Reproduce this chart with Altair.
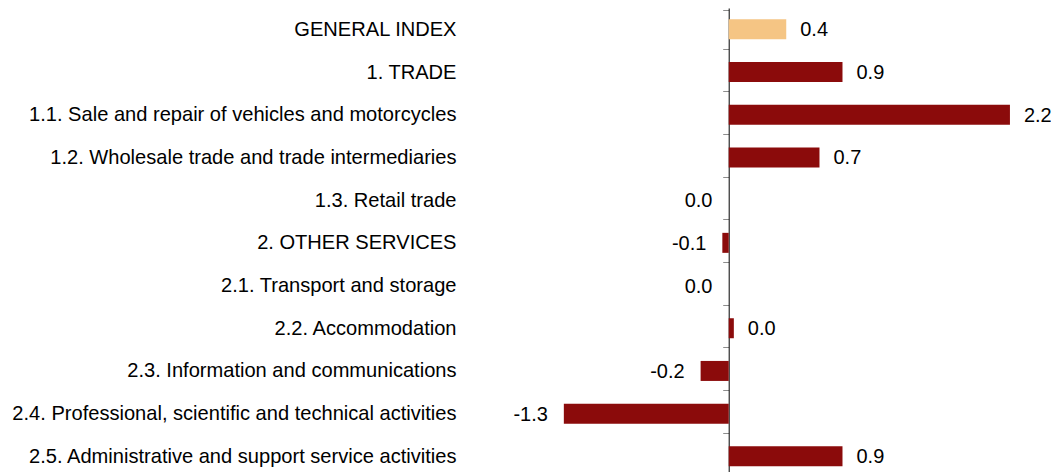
import altair as alt
import pandas as pd

categories = [
    "GENERAL INDEX",
    "1. TRADE",
    "1.1. Sale and repair of vehicles and motorcycles",
    "1.2. Wholesale trade and trade intermediaries",
    "1.3. Retail trade",
    "2. OTHER SERVICES",
    "2.1. Transport and storage",
    "2.2. Accommodation",
    "2.3. Information and communications",
    "2.4. Professional, scientific and technical activities",
    "2.5. Administrative and support service activities",
]
values = [0.45, 0.89, 2.2, 0.71, -0.002, -0.05, -0.002, 0.04, -0.22, -1.29, 0.89]
labels = ["0.4", "0.9", "2.2", "0.7", "0.0", "-0.1", "0.0", "0.0", "-0.2", "-1.3", "0.9"]
groups = ["total", "sub", "sub", "sub", "sub", "sub", "sub", "sub", "sub", "sub", "sub"]

df = pd.DataFrame({"cat": categories, "v": values, "lab": labels, "grp": groups})

FONT = "Liberation Sans"

y_enc = alt.Y(
    "cat:N",
    sort=categories,
    title=None,
    axis=alt.Axis(
        orient="left",
        offset=-268.4,
        tickBand="extent",
        tickSize=6,
        tickColor="#8c8c8c",
        domainColor="#000000",
        domainWidth=1,
        labelFont=FONT,
        labelFontSize=20.1,
        labelColor="#000000",
        labelPadding=266.7,
        labelLimit=0,
        grid=False,
    ),
)
x_enc = alt.X("v:Q", scale=alt.Scale(domain=[-2.1, 2.5], nice=False, zero=False), axis=None)

bars = (
    alt.Chart(df)
    .transform_filter("abs(datum.v) > 0.005")
    .mark_bar(size=20)
    .encode(
        x=x_enc,
        y=y_enc,
        color=alt.Color(
            "grp:N",
            scale=alt.Scale(domain=["total", "sub"], range=["#F5C584", "#8B0B0B"]),
            legend=None,
        ),
    )
)

pos_text = (
    alt.Chart(df)
    .transform_filter("datum.v >= 0")
    .mark_text(align="left", baseline="middle", dx=14, dy=1, font=FONT, fontSize=20, color="#000000")
    .encode(x=x_enc, y=alt.Y("cat:N", sort=categories), text="lab:N")
)
neg_text = (
    alt.Chart(df)
    .transform_filter("datum.v < 0")
    .mark_text(align="right", baseline="middle", dx=-16, dy=1, font=FONT, fontSize=20, color="#000000")
    .encode(x=x_enc, y=alt.Y("cat:N", sort=categories), text="lab:N")
)

chart = (
    alt.layer(bars, pos_text, neg_text)
    .properties(
        width=588,
        height=alt.Step(42.7),
        autosize=alt.AutoSizeParams(type="none"),
        padding={"left": 452.3, "top": 0, "right": 2.7, "bottom": 0},
        background="white",
    )
    .configure_view(stroke=None, strokeWidth=0)
)

chart.save("out.html", embed_options={"renderer": "svg", "actions": False})
